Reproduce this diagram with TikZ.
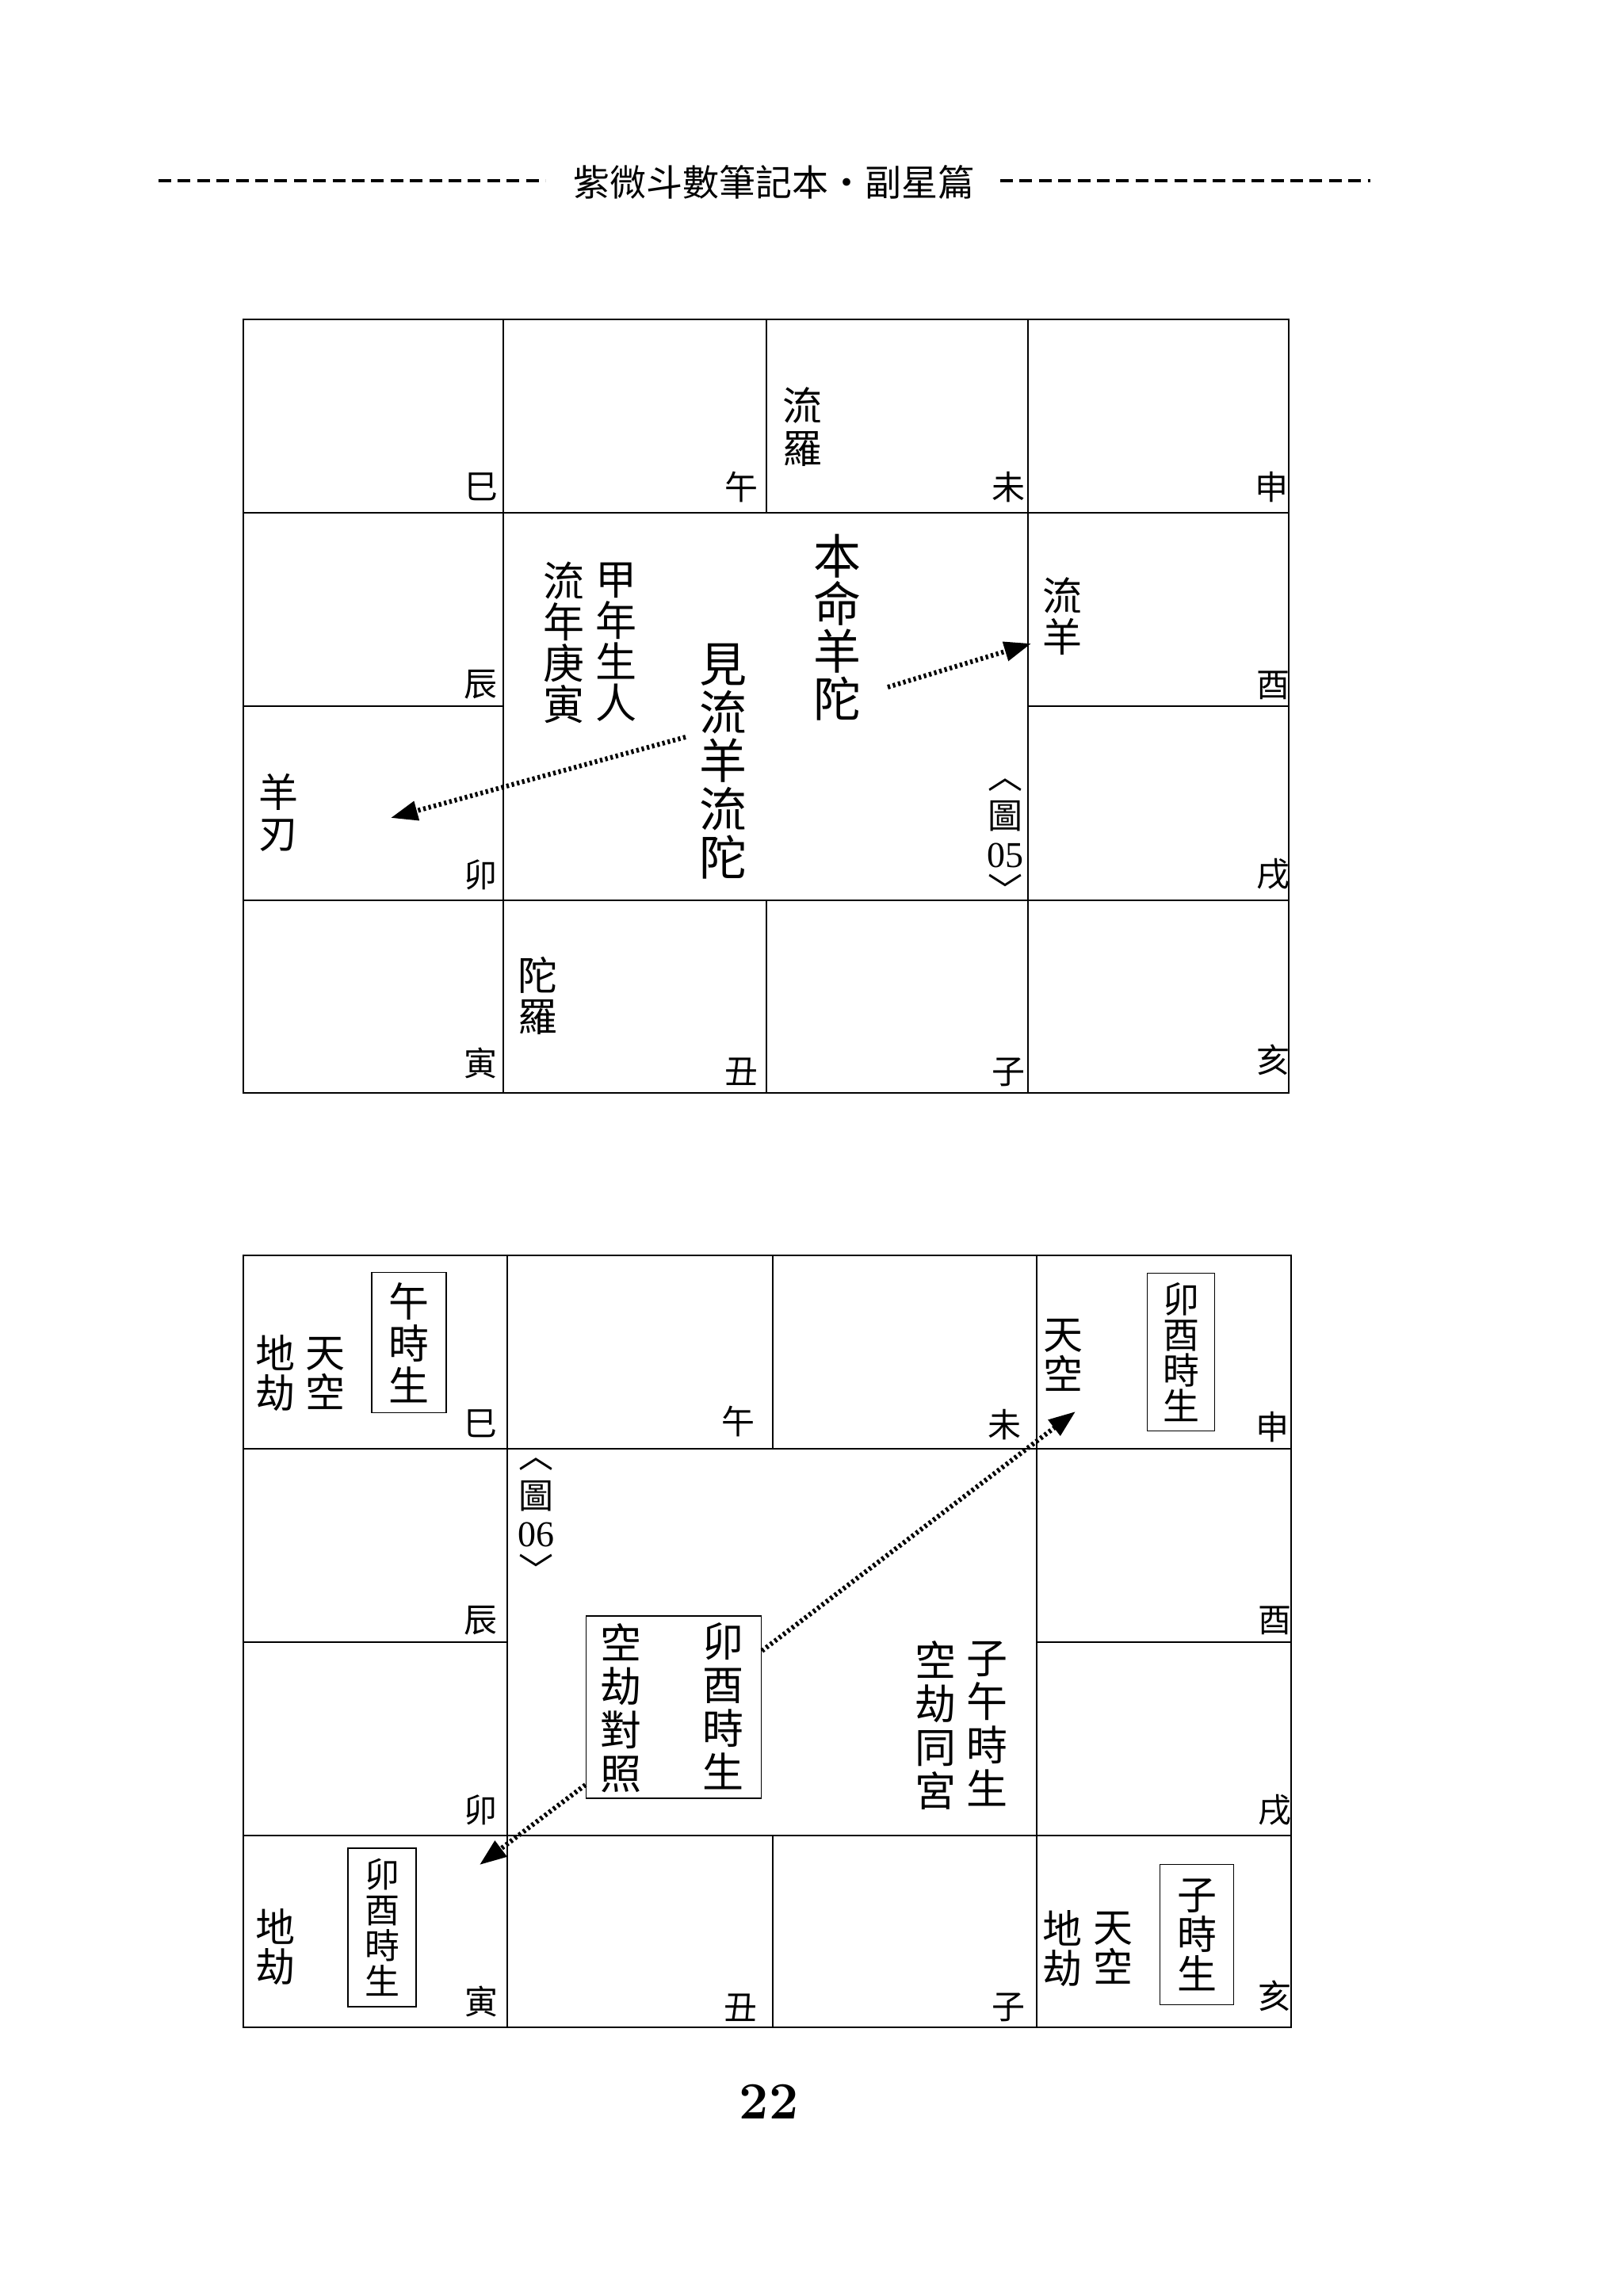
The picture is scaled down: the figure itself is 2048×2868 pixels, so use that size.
\documentclass[tikz,border=0pt]{standalone}
\usepackage{fontspec}
\newfontfamily\cjk{Noto Sans CJK TC}
\newfontfamily\numf{Liberation Serif}
\usetikzlibrary{arrows.meta}
\tikzset{
  hl/.style={line width=0.6pt},
  vl/.style={line width=0.45pt},
  br/.style={inner sep=0pt, font=\cjk\fontsize{10.5}{10.5}\selectfont},
  vs/.style n args={2}{inner sep=0pt, align=center, font=\cjk\fontsize{#1}{#2}\selectfont},
  tagbox/.style n args={2}{draw, line width=0.4pt, minimum width=#1, minimum height=#2, inner sep=0pt},
  dots/.style={line width=1.5pt, dash pattern=on 0.8pt off 0.9pt, -{Triangle[length=8.5pt,width=6pt]}},
  hdash/.style={line width=0.9pt, dash pattern=on 4pt off 2.1pt},
  num/.style={inner sep=0pt, font=\numf\fontsize{11.5}{11.5}\selectfont},
  brk/.style={inner sep=0pt, font=\cjk\fontsize{11}{11}\selectfont},
}
\begin{document}
\begin{tikzpicture}[x=0.25pt, y=-0.25pt]
\useasboundingbox (0,0) rectangle (2048,2868);
\fill[white] (0,0) rectangle (2048,2868);

% ---------- header ----------
\node[inner sep=0pt, font=\cjk\fontsize{11.5}{11.5}\selectfont] (title) at (976,230) {紫微斗數筆記本・副星篇};
\draw[hdash] (200,228) -- (688,228);
\draw[hdash] (1262,228) -- (1729,228);

% ---------- top chart grid ----------
\draw[hl] (307,403) rectangle (1626,1379);
\draw[hl] (307,647) -- (1626,647);
\draw[hl] (307,891) -- (635,891);
\draw[hl] (1297,891) -- (1626,891);
\draw[hl] (307,1136) -- (1626,1136);
\draw[vl] (635,403) -- (635,1379);
\draw[vl] (1297,403) -- (1297,1379);
\draw[vl] (967,403) -- (967,647);
\draw[vl] (967,1136) -- (967,1379);

% branches
\node[br] (t1) at (607,614) {巳};
\node[br] (t2) at (935,614) {午};
\node[br] (t3) at (1272,615) {未};
\node[br] (t4) at (1604,615) {申};
\node[br] (t5) at (606,864) {辰};
\node[br] (t6) at (1606,865) {酉};
\node[br] (t7) at (606,1104) {卯};
\node[br] (t8) at (1606,1103) {戌};
\node[br] (t9) at (606,1341) {寅};
\node[br] (t10) at (935,1352) {丑};
\node[br] (t11) at (1272,1353) {子};
\node[br] (t12) at (1606,1337) {亥};

% stars
\node[vs={12.5}{13.5}] (liuluo) at (1012,539) {流\\羅};
\node[vs={15}{15}] (benming) at (1056,792) {本\\命\\羊\\陀};
\node[vs={15}{15.25}] (jian) at (912,961) {見\\流\\羊\\流\\陀};
\node[vs={13}{13}] (jianian) at (777,810) {甲\\年\\生\\人};
\node[vs={13}{13}] (liunian) at (711,811) {流\\年\\庚\\寅};
\node[vs={12.5}{13}] (liuyang) at (1340,778) {流\\羊};
\node[vs={12.5}{13}] (yangren) at (351,1025) {羊\\刃};
\node[vs={12.5}{13}] (tuoluo) at (678,1256) {陀\\羅};

% figure tag 05
\node[brk] (f5a) at (1268,991) {︿};
\node[brk] (f5b) at (1268,1030) {圖};
\node[num] (f5c) at (1268,1079) {05};
\node[brk] (f5d) at (1268,1121) {﹀};

% arrows
\coordinate (a1s) at (1120,867);
\coordinate (a1e) at (1301,812);
\coordinate (a2s) at (865,930);
\coordinate (a2e) at (493,1032);
\draw[dots] (a1s) -- (a1e);
\draw[dots] (a2s) -- (a2e);

% ---------- bottom chart grid ----------
\draw[hl] (307,1584) rectangle (1629,2558);
\draw[hl] (307,1828) -- (1629,1828);
\draw[hl] (307,2072) -- (640,2072);
\draw[hl] (1308,2072) -- (1629,2072);
\draw[hl] (307,2316) -- (1629,2316);
\draw[vl] (640,1584) -- (640,2558);
\draw[vl] (1308,1584) -- (1308,2558);
\draw[vl] (975,1584) -- (975,1828);
\draw[vl] (975,2316) -- (975,2558);

% branches
\node[br] (b1) at (606,1796) {巳};
\node[br] (b2) at (931,1793) {午};
\node[br] (b3) at (1267,1798) {未};
\node[br] (b4) at (1605,1800) {申};
\node[br] (b5) at (606,2045) {辰};
\node[br] (b6) at (1608,2045) {酉};
\node[br] (b7) at (606,2284) {卯};
\node[br] (b8) at (1608,2284) {戌};
\node[br] (b9) at (607,2525) {寅};
\node[br] (b10) at (934,2533) {丑};
\node[br] (b11) at (1272,2533) {子};
\node[br] (b12) at (1608,2518) {亥};

% si cell
\node[tagbox={23.5pt}{44.25pt}, vs={12.75}{13.25}] (wushi) at (516,1694) {午\\時\\生};
\node[vs={12.5}{12.5}] (tk1) at (410,1733) {天\\空};
\node[vs={12.5}{12.5}] (dj1) at (347,1733) {地\\劫};

% shen cell
\node[vs={12.5}{12.5}] (tk2) at (1341,1710) {天\\空};
\node[tagbox={21.25pt}{49.75pt}, vs={11.5}{11.25}] (maoyou1) at (1490,1706) {卯\\酉\\時\\生};

% figure tag 06
\node[brk] (f6a) at (676,1848) {︿};
\node[brk] (f6b) at (676,1888) {圖};
\node[num] (f6c) at (676,1936) {06};
\node[brk] (f6d) at (676,1979) {﹀};

% centre box
\node[tagbox={55.25pt}{57.5pt}] (cbox) at (850,2154) {};
\node[vs={13}{13.75}] (maoyou0) at (912,2153) {卯\\酉\\時\\生};
\node[vs={13}{13.75}] (duizhao) at (783,2155) {空\\劫\\對\\照};
\node[vs={13}{13.75}] (ziwu) at (1245,2175) {子\\午\\時\\生};
\node[vs={13}{13.75}] (tonggong) at (1180,2177) {空\\劫\\同\\宮};

% yin cell
\node[vs={12.5}{12.5}] (dj2) at (347,2457) {地\\劫};
\node[tagbox={21.5pt}{50pt}, vs={11}{11.25}] (maoyou2) at (482,2432) {卯\\酉\\時\\生};

% hai cell
\node[tagbox={23.25pt}{44.25pt}, vs={12.5}{12.5}] (zishi) at (1510,2441) {子\\時\\生};
\node[vs={12.5}{12.5}] (tk3) at (1404,2458) {天\\空};
\node[vs={12.5}{12.5}] (dj3) at (1340,2459) {地\\劫};

% arrows
\coordinate (b1s) at (cbox.east |- 0,2083);
\coordinate (b1e) at (1357,1781);
\coordinate (b2s) at (cbox.west |- 0,2252);
\coordinate (b2e) at (605,2353);
\draw[dots] (b1s) -- (b1e);
\draw[dots] (b2s) -- (b2e);

% page number
\node[inner sep=0pt, font=\bfseries\fontsize{16.5}{16.5}\selectfont] (page) at (970,2652) {22};
\end{tikzpicture}
\end{document}
